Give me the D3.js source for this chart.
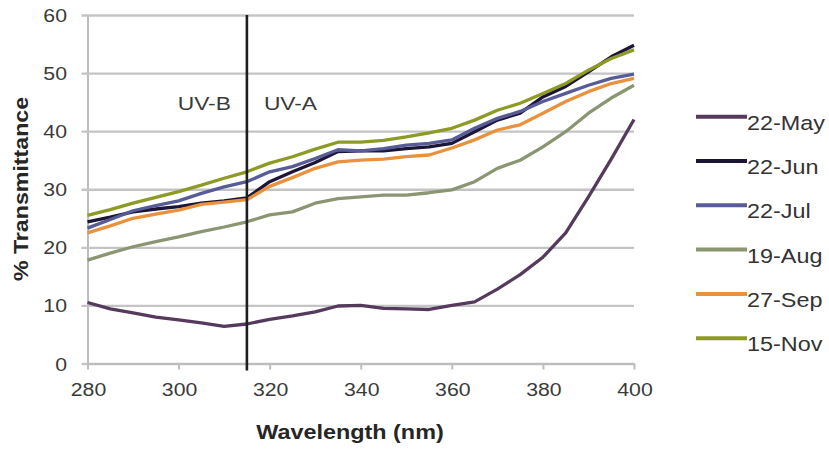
<!DOCTYPE html>
<html>
<head>
<meta charset="utf-8">
<script src="https://cdn.jsdelivr.net/npm/d3@7"></script>
<style>
  html, body { margin: 0; padding: 0; background: #fff; }
  svg { display: block; }
  text { font-family: "Liberation Sans", Arial, sans-serif; }
</style>
</head>
<body>
<svg id="chart" width="829" height="450"></svg>
<script>
// Wavelengths sampled every 5 nm
const wavelengths = [280, 285, 290, 295, 300, 305, 310, 315, 320, 325, 330, 335, 340,
                     345, 350, 355, 360, 365, 370, 375, 380, 385, 390, 395, 400];

// % transmittance for each sampling date
const may22 = [10.5, 9.4, 8.7, 8.0, 7.5, 7.0, 6.4, 6.8, 7.6, 8.2, 8.9, 9.9, 10.0,
               9.5, 9.4, 9.3, 10.0, 10.6, 12.8, 15.3, 18.3, 22.5, 28.7, 35.2, 42.0];
const jun22 = [24.4, 25.2, 26.1, 26.6, 27.0, 27.6, 28.0, 28.5, 31.3, 33.0, 34.6, 36.5, 36.6,
               36.6, 37.0, 37.3, 37.9, 39.9, 41.9, 43.1, 45.9, 47.7, 50.2, 52.8, 54.8];
const jul22 = [23.3, 24.8, 26.3, 27.2, 28.0, 29.3, 30.4, 31.3, 33.0, 33.9, 35.3, 36.8, 36.6,
               37.0, 37.6, 37.9, 38.5, 40.5, 42.2, 43.4, 45.1, 46.5, 47.9, 49.1, 49.8];
const aug19 = [17.8, 19.0, 20.1, 21.0, 21.8, 22.7, 23.5, 24.4, 25.6, 26.1, 27.6, 28.4, 28.7,
               29.0, 29.0, 29.4, 29.9, 31.3, 33.6, 35.0, 37.3, 39.9, 43.1, 45.7, 47.9];
const sep27 = [22.5, 23.7, 25.0, 25.7, 26.4, 27.4, 27.8, 28.2, 30.5, 32.0, 33.6, 34.7, 35.0,
               35.2, 35.6, 35.9, 37.1, 38.5, 40.2, 41.1, 43.1, 45.1, 46.8, 48.2, 49.1];
const nov15 = [25.5, 26.5, 27.6, 28.6, 29.6, 30.7, 31.9, 33.0, 34.5, 35.6, 36.9, 38.1, 38.1,
               38.4, 39.0, 39.7, 40.5, 41.9, 43.6, 44.8, 46.5, 48.2, 50.5, 52.5, 54.0];

const seriesNames = ["22-May", "22-Jun", "22-Jul", "19-Aug", "27-Sep", "15-Nov"];
const seriesValues = [may22, jun22, jul22, aug19, sep27, nov15];
const seriesColors = ["#553a5c", "#1c1535", "#575c96", "#8a9672", "#e8923e", "#8d9a24"];

const xTicks = [280, 300, 320, 340, 360, 380, 400];
const yTicks = [0, 10, 20, 30, 40, 50, 60];
const bandBoundary = 315;   // nm, UV-B / UV-A divide

const margin = { left: 87.5, right: 195, top: 15, bottom: 86.5 };
const W = 829, H = 450;

const svg = d3.select("#chart");
const x = d3.scaleLinear().domain([280, 400]).range([margin.left, W - margin.right]);
const y = d3.scaleLinear().domain([0, 60]).range([H - margin.bottom, margin.top]);

// Text helper: the chart's font runs slightly wide, so stretch along the baseline
function label(g, str, px, py, o) {
  o = o || {};
  return g.append("text")
    .attr("transform", `translate(${px},${py}) rotate(${o.rotate || 0}) scale(${o.sx || 1},1)`)
    .attr("text-anchor", o.anchor || "start")
    .attr("font-size", o.size || 19)
    .attr("font-weight", o.weight || "normal")
    .attr("fill", o.fill || "#3a3a3a")
    .text(str);
}

// Horizontal gridlines and y axis
const yAxis = d3.axisLeft(y).tickValues(yTicks).tickSize(-(x.range()[1] - x.range()[0]))
  .tickSizeOuter(0).tickFormat("");
const gy = svg.append("g").attr("transform", `translate(${margin.left},0)`).call(yAxis);
gy.select(".domain").attr("stroke", "#bdbdbd").attr("stroke-width", 2);
gy.selectAll(".tick line").attr("stroke", "#c4c4c4").attr("stroke-width", 2.4)
  .attr("x1", -6);
const gyl = svg.append("g");
yTicks.forEach(t => label(gyl, String(t), 67, y(t) + 7, { anchor: "end", sx: 1.12 }));

// x axis
const xAxis = d3.axisBottom(x).tickValues(xTicks).tickSize(6).tickSizeOuter(0).tickFormat("");
const gx = svg.append("g").attr("transform", `translate(0,${y(0)})`).call(xAxis);
gx.select(".domain").attr("stroke", "#bdbdbd").attr("stroke-width", 2.2);
gx.selectAll(".tick line").attr("stroke", "#bdbdbd").attr("stroke-width", 2);
const gxl = svg.append("g");
xTicks.forEach(t => label(gxl, String(t), x(t) + 1, 396, { anchor: "middle", sx: 1.12 }));

// Series lines
const line = d3.line().x((d, i) => x(wavelengths[i])).y(d => y(d));
const gl = svg.append("g");
seriesValues.forEach((vals, i) => {
  gl.append("path").datum(vals)
    .attr("d", line)
    .attr("fill", "none")
    .attr("stroke", seriesColors[i])
    .attr("stroke-width", 3.3)
    .attr("stroke-linejoin", "round");
});

// UV-B / UV-A boundary
svg.append("line")
  .attr("x1", x(bandBoundary)).attr("x2", x(bandBoundary))
  .attr("y1", y(60)).attr("y2", y(0) + 7)
  .attr("stroke", "#1e1e1e").attr("stroke-width", 2.6);
label(svg, "UV-B", x(bandBoundary) - 16, 110, { anchor: "end", sx: 1.2 });
label(svg, "UV-A", x(bandBoundary) + 17, 110, { anchor: "start", sx: 1.2 });

// Axis titles
label(svg, "Wavelength (nm)", 350, 439, { anchor: "middle", weight: "bold", size: 19.5, sx: 1.2, fill: "#262626" });
label(svg, "% Transmittance", 28, 189, { anchor: "middle", weight: "bold", size: 20, sx: 1.16, rotate: -90, fill: "#262626" });

// Legend
const gLeg = svg.append("g");
seriesNames.forEach((name, i) => {
  const ly = 116.7 + i * 44.3;
  gLeg.append("line")
    .attr("x1", 696).attr("x2", 747).attr("y1", ly).attr("y2", ly)
    .attr("stroke", seriesColors[i]).attr("stroke-width", 4);
  label(gLeg, name, 747, ly + 13, { anchor: "start", size: 19.5, sx: 1.2, fill: "#333" });
});
</script>
</body>
</html>
